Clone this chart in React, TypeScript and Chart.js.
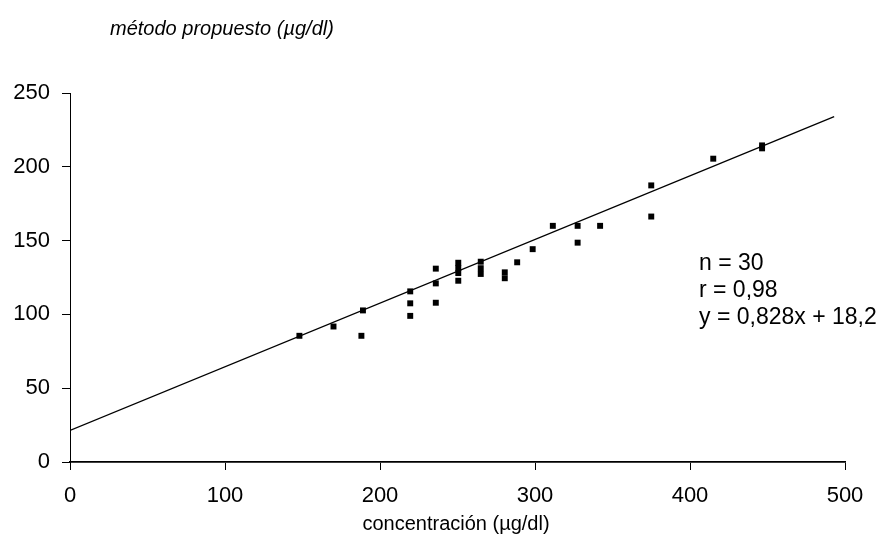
import React, { useEffect, useRef } from "react";
import { Chart, registerables } from "chart.js";

Chart.register(...registerables);

// Measured pairs (reference method concentration vs. proposed method)
const xValues = [148, 170, 188, 189, 219.5, 219.5, 219.5, 236, 236, 236, 250.5, 250.5, 250.5, 250.5, 265, 265, 265, 280.5, 280.5, 288.5, 298.5, 311.5, 327.5, 327.5, 342, 375, 375, 415, 446.5, 446.5];
const yValues = [85.5, 91.8, 85.5, 102.7, 115.6, 107.5, 99, 131, 121, 107.9, 135, 131.5, 128, 122.8, 135.7, 131.3, 127.4, 128.5, 124.5, 135.3, 144.2, 160, 160, 148.6, 160, 187.4, 166.3, 205.5, 212.5, 214.5];

// Fitted line as drawn in the figure (start / end)
const lineX = [0, 493];
const lineY = [21.4, 234];

const xTicks = [0, 100, 200, 300, 400, 500];
const yTicks = [0, 50, 100, 150, 200, 250];

const yTitle = "método propuesto (µg/dl)";
const xTitle = "concentración (µg/dl)";
const statLines = ["n = 30", "r = 0,98", "y = 0,828x + 18,2"];

const FONT = '"Liberation Sans", Arial, Helvetica, sans-serif';

export default function App() {
  const ref = useRef<HTMLCanvasElement | null>(null);

  useEffect(() => {
    document.body.style.margin = "0";
    const canvas = ref.current;
    if (!canvas) return;

    const textPlugin = {
      id: "texts",
      afterDraw(chart: any) {
        const ctx = chart.ctx;
        ctx.save();
        ctx.fillStyle = "#000";
        ctx.textBaseline = "alphabetic";
        ctx.textAlign = "left";
        ctx.font = `italic 20px ${FONT}`;
        ctx.fillText(yTitle, 110, 35);
        ctx.font = `20px ${FONT}`;
        ctx.textAlign = "center";
        ctx.fillText(xTitle, 456, 530);
        ctx.textAlign = "left";
        ctx.font = `23px ${FONT}`;
        statLines.forEach((s, i) => ctx.fillText(s, 699, 270 + i * 27));
        ctx.restore();
      },
    };

    const chart = new Chart(canvas, {
      type: "scatter",
      data: {
        datasets: [
          {
            type: "scatter",
            data: xValues.map((x, i) => ({ x, y: yValues[i] })),
            backgroundColor: "#000",
            borderColor: "#000",
            pointStyle: "rect",
            pointRadius: 4.2,
            pointHoverRadius: 4.2,
            borderWidth: 0,
          },
          {
            type: "line",
            data: lineX.map((x, i) => ({ x, y: lineY[i] })),
            borderColor: "#000",
            borderWidth: 1.3,
            pointRadius: 0,
            fill: false,
            tension: 0,
          },
        ],
      },
      options: {
        animation: false,
        responsive: false,
        maintainAspectRatio: false,
        events: [],
        layout: { padding: { top: 93, right: 41, left: 0, bottom: 0 } },
        plugins: { legend: { display: false }, tooltip: { enabled: false }, title: { display: false } },
        scales: {
          x: {
            type: "linear",
            min: 0,
            max: 500,
            afterBuildTicks: (s: any) => {
              s.ticks = xTicks.map((v) => ({ value: v }));
            },
            afterFit: (s: any) => {
              s.height = 79;
            },
            border: { display: true, color: "#000", width: 1.8 },
            grid: { drawOnChartArea: false, drawTicks: true, tickLength: 8, color: "#000", lineWidth: 1 },
            ticks: { color: "#000", font: { family: FONT, size: 22 }, padding: 13, maxRotation: 0 },
          },
          y: {
            type: "linear",
            min: 0,
            max: 250,
            afterBuildTicks: (s: any) => {
              s.ticks = yTicks.map((v) => ({ value: v }));
            },
            afterFit: (s: any) => {
              s.width = 70;
            },
            border: { display: true, color: "#000", width: 1 },
            grid: { drawOnChartArea: false, drawTicks: true, tickLength: 8, color: "#000", lineWidth: 1 },
            ticks: { color: "#000", font: { family: FONT, size: 22 }, padding: 12 },
          },
        },
      },
      plugins: [textPlugin],
    });

    return () => chart.destroy();
  }, []);

  return (
    <div style={{ width: 886, height: 541, background: "#fff" }}>
      <canvas ref={ref} width={886} height={541} style={{ display: "block" }} />
    </div>
  );
}
